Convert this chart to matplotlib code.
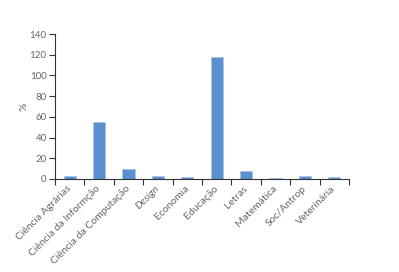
import matplotlib
matplotlib.use("Agg")
import matplotlib.pyplot as plt
import numpy as np

categories = ["Ciência Agrárias", "Ciência da Informção", "Ciência da Computação", "Design",
              "Economia", "Educação", "Letras", "Matemática", "Soc/Antrop", "Veterinária"]
values = [3, 55, 10, 3, 2, 118, 8, 1, 3, 2]
yticks = [0, 20, 40, 60, 80, 100, 120, 140]

plt.rcParams['font.family'] = ['Lato', 'DejaVu Sans']
fig = plt.figure(figsize=(3.99, 2.72), dpi=100)
ax = fig.add_axes([55/399, 1-179/272, (349-55)/399, (179-34)/272])
x = np.arange(len(categories))
ax.bar(x, values, width=0.42, color='#5b8fd0', edgecolor='#a8c4ea', linewidth=0.6, zorder=2)
ax.set_xlim(-0.5, len(categories)-0.5)
ax.set_ylim(0, 140)
ax.set_yticks(yticks)
ax.set_yticklabels([str(v) for v in yticks], fontsize=7, color='#666666')
ax.set_xticks(x)
ax.set_xticklabels(categories, rotation=45, ha='right', va='center', rotation_mode='anchor',
                   fontsize=7.5, color='#666666')
for lab in ax.get_xticklabels():
    if lab.get_text() == "Design":
        lab.set_style('italic')
ax.tick_params(axis='x', which='major', length=0, pad=6)
ax.set_xticks(np.arange(-0.5, len(categories)), minor=True)
ax.tick_params(axis='x', which='minor', length=4, width=0.8, color='#333333')
ax.tick_params(axis='y', length=4, width=0.8, color='#333333', pad=2)
for s in ['top', 'right']:
    ax.spines[s].set_visible(False)
for s in ['left', 'bottom']:
    ax.spines[s].set_color('#333333')
    ax.spines[s].set_linewidth(0.8)
ax.set_ylabel('%', fontsize=7.5, color='#666666', labelpad=1)
fig.savefig('out.png', dpi=100)
